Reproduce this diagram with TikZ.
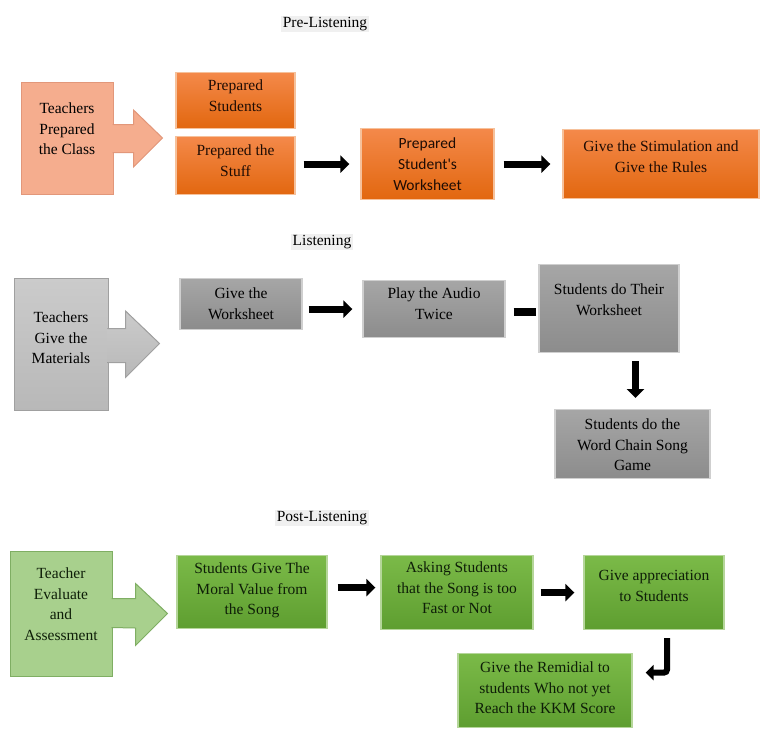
\documentclass[tikz,border=0pt]{standalone}
\usepackage{fontspec}
\setmainfont{Liberation Serif}
\newfontfamily\calibrifont{Carlito}
\usepackage{tikz}
\usetikzlibrary{positioning,arrows.meta,calc}
\definecolor{orgtop}{HTML}{F4894A}
\definecolor{orgbot}{HTML}{E2670F}
\definecolor{orgline}{HTML}{F6C19B}
\definecolor{orgside}{HTML}{F5AD8E}
\definecolor{orgsideline}{HTML}{E2977A}
\definecolor{orgtext}{HTML}{1E0C04}
\definecolor{grytop}{HTML}{A6A6A6}
\definecolor{grybot}{HTML}{8C8C8C}
\definecolor{gryline}{HTML}{CFCFCF}
\definecolor{grysidetop}{HTML}{CBCBCB}
\definecolor{grysidebot}{HTML}{B8B8B8}
\definecolor{grysideline}{HTML}{A0A0A0}
\definecolor{grntop}{HTML}{7BBA48}
\definecolor{grnbot}{HTML}{5E9E30}
\definecolor{grnline}{HTML}{B5D69A}
\definecolor{grnside}{HTML}{A8D08D}
\definecolor{grnsideline}{HTML}{7FAE63}
\definecolor{grntext}{HTML}{0E1E08}

\begin{document}
\begin{tikzpicture}[
  x=1pt, y=-1pt,
  every node/.style={font=\fontsize{15.5}{20.5}\selectfont, align=center, inner ysep=0pt, inner xsep=2pt},
  stage/.style={fill=black!6, inner sep=1.5pt, text=black},
  orange step/.style={draw=orgline, line width=1.2pt, top color=orgtop, bottom color=orgbot, text=orgtext, anchor=north},
  orange side/.style={draw=orgsideline, line width=1pt, fill=orgside, text=black, anchor=north},
  gray step/.style={draw=gryline, line width=1.2pt, top color=grytop, bottom color=grybot, text=black, anchor=north},
  gray side/.style={draw=grysideline, line width=1pt, top color=grysidetop, bottom color=grysidebot, text=black, anchor=north},
  green step/.style={draw=grnline, line width=1.2pt, top color=grntop, bottom color=grnbot, text=grntext, anchor=north},
  green side/.style={draw=grnsideline, line width=1pt, fill=grnside, text=grntext, anchor=north},
  flow/.style={line width=7pt, -{Triangle[length=9pt,width=17pt]}},
  bar/.style={line width=8pt}
]
  \useasboundingbox[fill=white] (0,0) rectangle (760,729);

  % pre-listening
  \node[stage] (pre) at (325,24) {Pre-Listening};
  \node[orange side, minimum width=92pt, text height=72pt, text depth=40pt] (tpc) at (67,82) {Teachers\\Prepared\\the Class};
  \node[orange step, minimum width=119pt, text height=38.5pt, text depth=17.5pt] (pstud) at (235.5,72) {Prepared\\Students};
  \node[orange step, minimum width=119pt, text height=39.5pt, text depth=18.5pt] (pstuff) at (235.5,136) {Prepared the\\Stuff};
  \node[orange step, minimum width=133pt, text height=62pt, text depth=9pt, font=\calibrifont\fontsize{15.5}{21}\selectfont] (psw) at (427.5,128) {Prepared\\Student's\\Worksheet};
  \node[orange step, minimum width=196pt, text height=42.5pt, text depth=26.5pt] (gsr) at (661,129) {Give the Stimulation and\\Give the Rules};

  \filldraw[draw=orgsideline, fill=orgside, line width=1pt] ($(tpc.east)+(-1,-14)$) -- ++(21,0) -- ++(0,-14.5)
    -- ($(tpc.east)+(49,-0.5)$) -- ($(tpc.east)+(20,28.5)$) -- ++(0,-14.5) -- ($(tpc.east)+(-1,14)$);
  \draw[flow, shorten <=8pt, shorten >=11pt] (pstuff.east |- psw.west) -- (psw.west);
  \draw[flow, shorten <=9pt, shorten >=12pt] (psw.east) -- (psw.east -| gsr.west);

  % listening
  \node[stage] (lis) at (322,242) {Listening};
  \node[gray side, minimum width=94pt, text height=85pt, text depth=47pt] (tgm) at (61,278) {Teachers\\Give the\\Materials};
  \node[gray step, minimum width=122pt, text height=40.5pt, text depth=10.5pt] (gws) at (241,278) {Give the\\Worksheet};
  \node[gray step, minimum width=142pt, text height=38.5pt, text depth=18.5pt] (pat) at (434,280) {Play the Audio\\Twice};
  \node[gray step, minimum width=140pt, text height=50.5pt, text depth=37.5pt] (sdw) at (609,264) {Students do Their\\Worksheet};
  \node[gray step, minimum width=155pt, text height=61pt, text depth=8pt] (wcs) at (632.5,409) {Students do the\\Word Chain Song\\Game};

  \filldraw[draw=grysideline, top color=grysidetop, bottom color=grysidebot, line width=1pt] ($(tgm.east)+(-1,-16)$) -- ++(18,0) -- ++(0,-17.5)
    -- ($(tgm.east)+(51,-1)$) -- ($(tgm.east)+(17,33)$) -- ++(0,-15) -- ($(tgm.east)+(-1,18)$);
  \draw[flow, shorten <=6pt, shorten >=10pt] (gws.east |- pat.west) -- (pat.west);
  \draw[bar, shorten <=8pt, shorten >=2pt] ($(pat.east)+(0,2.5)$) -- ($(pat.east -| sdw.west)+(0,2.5)$);
  \draw[flow, shorten <=8pt, shorten >=11pt] ($(wcs.north |- sdw.south)+(3,0)$) -- ($(wcs.north)+(3,0)$);

  % post-listening
  \node[stage] (post) at (322,518) {Post-Listening};
  \node[green side, minimum width=102pt, text height=88.5pt, text depth=36.5pt] (tea) at (61,551) {Teacher\\Evaluate\\and\\Assessment};
  \node[green step, minimum width=150pt, text height=59pt, text depth=14pt] (mor) at (252,555) {Students Give The\\Moral Value from\\the Song};
  \node[green step, minimum width=152pt, text height=58pt, text depth=16pt] (ask) at (457,555) {Asking Students\\that the Song is too\\Fast or Not};
  \node[green step, minimum width=140pt, text height=45.5pt, text depth=28.5pt] (app) at (654,555) {Give appreciation\\to Students};
  \node[green step, minimum width=174pt, text height=60pt, text depth=14pt] (rem) at (545,653) {Give the Remidial to\\students Who not yet\\Reach the KKM Score};

  \filldraw[draw=grnsideline, fill=grnside, line width=1pt] ($(tea.east)+(-1,-15.5)$) -- ++(24,0) -- ++(0,-15)
    -- ($(tea.east)+(55,-0.5)$) -- ($(tea.east)+(23,31.5)$) -- ++(0,-17.5) -- ($(tea.east)+(-1,13.5)$);
  \draw[flow, shorten <=10pt, shorten >=5pt] ($(mor.east)+(0,-4.5)$) -- ($(mor.east -| ask.west)+(0,-4.5)$);
  \draw[flow, shorten <=7pt, shorten >=9pt] (ask.east) -- (ask.east -| app.west);
  \draw[line width=6pt, rounded corners=3pt, shorten <=8pt, shorten >=13pt, -{Triangle[length=8pt,width=15pt]}]
    ($(app.south)+(13,0)$) |- ($(rem.east)+(0,-18)$);
\end{tikzpicture}
\end{document}
